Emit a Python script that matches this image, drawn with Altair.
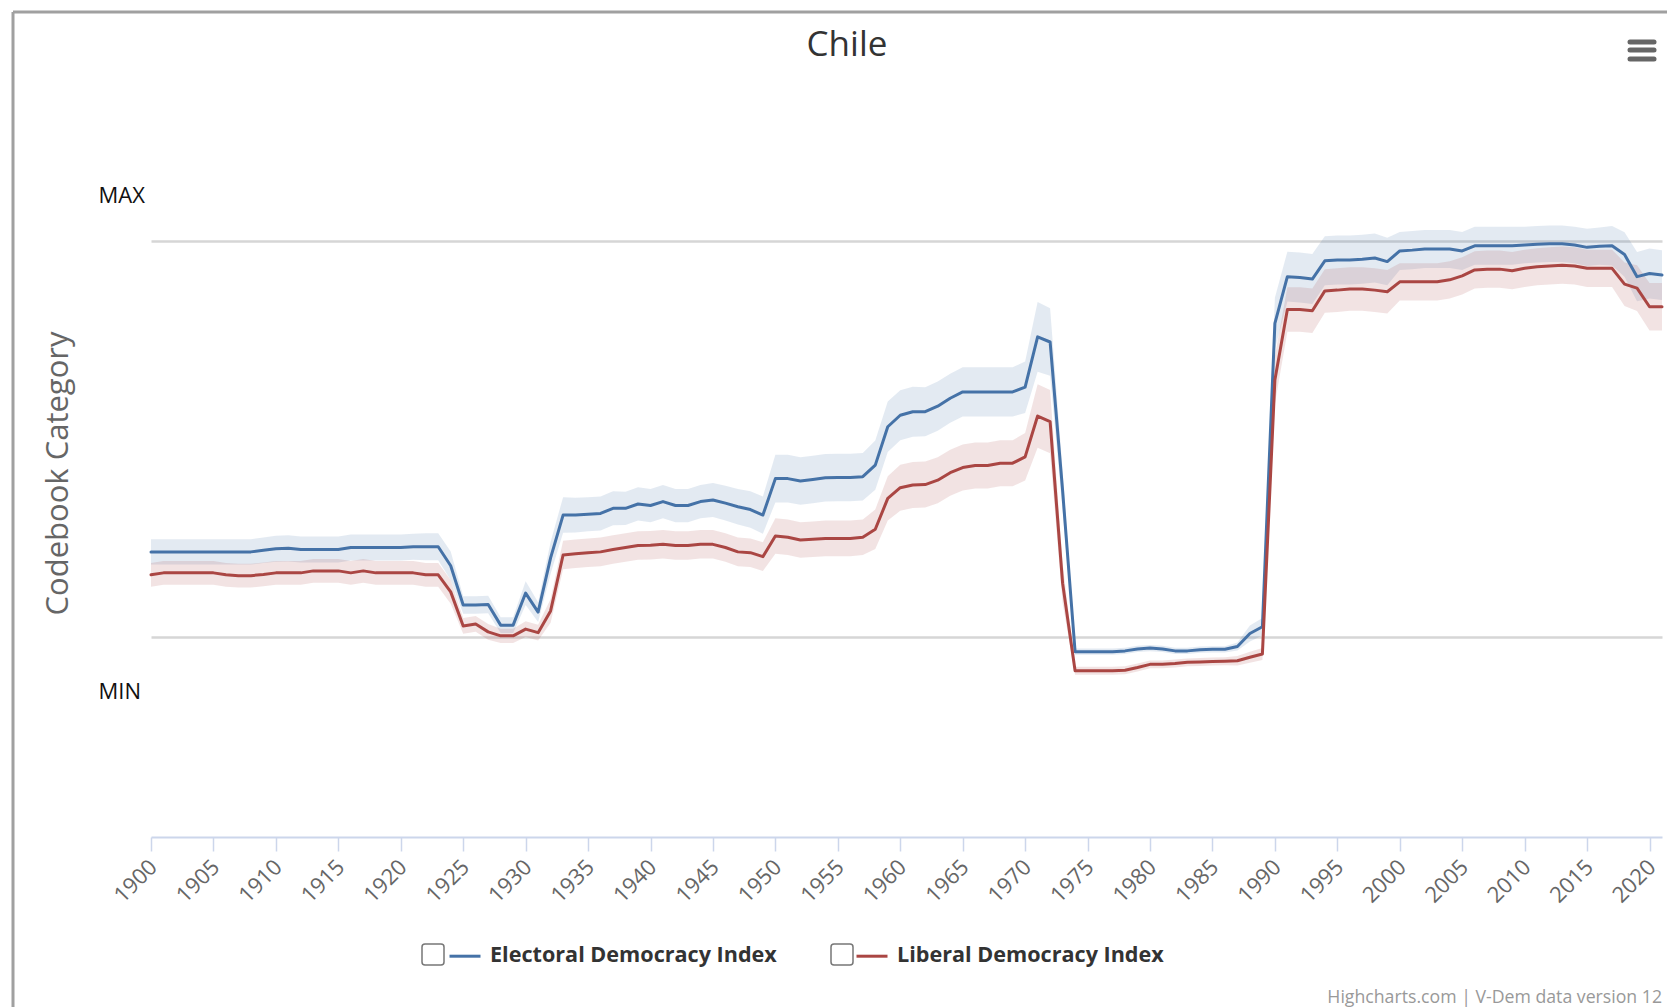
import altair as alt
import pandas as pd

# V-Dem indices for Chile, 1900-2021, on a MIN (0) .. MAX (1) codebook scale
years = list(range(1900, 2022))

electoral = [
    0.215, 0.215, 0.215, 0.215, 0.215, 0.215, 0.215, 0.215, 0.215, 0.219,
    0.223, 0.224, 0.221, 0.221, 0.221, 0.221, 0.226, 0.226, 0.226, 0.226,
    0.226, 0.228, 0.228, 0.228, 0.180, 0.081, 0.081, 0.082, 0.030, 0.030,
    0.111, 0.063, 0.200, 0.308, 0.308, 0.310, 0.312, 0.325, 0.325, 0.336,
    0.332, 0.342, 0.332, 0.332, 0.342, 0.346, 0.338, 0.329, 0.322, 0.308,
    0.400, 0.400, 0.394, 0.398, 0.402, 0.403, 0.403, 0.405, 0.434, 0.531,
    0.560, 0.569, 0.569, 0.583, 0.603, 0.619, 0.619, 0.619, 0.619, 0.619,
    0.631, 0.758, 0.745, 0.370, -0.037, -0.037, -0.037, -0.037, -0.035, -0.030,
    -0.028, -0.030, -0.035, -0.035, -0.032, -0.031, -0.031, -0.024, 0.009, 0.026,
    0.792, 0.910, 0.908, 0.904, 0.950, 0.952, 0.952, 0.954, 0.957, 0.948,
    0.975, 0.977, 0.980, 0.980, 0.980, 0.975, 0.988, 0.988, 0.988, 0.988,
    0.990, 0.992, 0.993, 0.993, 0.990, 0.984, 0.987, 0.988, 0.966, 0.910,
    0.918, 0.914,
]

# half-width of the credible interval around each electoral value
electoral_ci = [
    0.032, 0.032, 0.032, 0.032, 0.032, 0.032, 0.032, 0.032, 0.032, 0.032,
    0.033, 0.033, 0.033, 0.033, 0.033, 0.033, 0.033, 0.033, 0.033, 0.033,
    0.033, 0.033, 0.034, 0.034, 0.036, 0.022, 0.022, 0.022, 0.020, 0.020,
    0.030, 0.025, 0.040, 0.045, 0.044, 0.043, 0.043, 0.043, 0.042, 0.042,
    0.042, 0.042, 0.042, 0.042, 0.042, 0.043, 0.044, 0.045, 0.046, 0.047,
    0.060, 0.060, 0.060, 0.060, 0.060, 0.060, 0.060, 0.060, 0.062, 0.064,
    0.063, 0.063, 0.062, 0.062, 0.062, 0.062, 0.062, 0.062, 0.062, 0.062,
    0.065, 0.088, 0.085, 0.050, 0.008, 0.008, 0.008, 0.008, 0.008, 0.008,
    0.008, 0.008, 0.008, 0.008, 0.008, 0.008, 0.008, 0.010, 0.020, 0.022,
    0.065, 0.063, 0.063, 0.063, 0.062, 0.062, 0.062, 0.062, 0.062, 0.060,
    0.048, 0.048, 0.048, 0.048, 0.048, 0.048, 0.048, 0.048, 0.048, 0.048,
    0.046, 0.046, 0.046, 0.046, 0.046, 0.047, 0.047, 0.050, 0.056, 0.062,
    0.063, 0.063,
]

liberal = [
    0.157, 0.162, 0.162, 0.162, 0.162, 0.162, 0.157, 0.155, 0.155, 0.158,
    0.162, 0.162, 0.162, 0.167, 0.167, 0.167, 0.162, 0.167, 0.162, 0.162,
    0.162, 0.162, 0.157, 0.157, 0.114, 0.028, 0.033, 0.013, 0.003, 0.003,
    0.020, 0.011, 0.066, 0.207, 0.210, 0.213, 0.215, 0.221, 0.226, 0.231,
    0.232, 0.234, 0.231, 0.231, 0.234, 0.234, 0.226, 0.215, 0.213, 0.203,
    0.255, 0.252, 0.245, 0.247, 0.249, 0.249, 0.249, 0.252, 0.272, 0.350,
    0.377, 0.384, 0.385, 0.396, 0.415, 0.428, 0.433, 0.433, 0.439, 0.439,
    0.455, 0.558, 0.544, 0.136, -0.085, -0.085, -0.085, -0.085, -0.084, -0.077,
    -0.069, -0.069, -0.067, -0.064, -0.063, -0.062, -0.061, -0.060, -0.051, -0.043,
    0.649, 0.827, 0.827, 0.824, 0.874, 0.876, 0.879, 0.879, 0.876, 0.872,
    0.897, 0.897, 0.897, 0.897, 0.902, 0.912, 0.927, 0.929, 0.929, 0.925,
    0.931, 0.935, 0.937, 0.939, 0.937, 0.931, 0.931, 0.931, 0.891, 0.881,
    0.834, 0.834,
]

liberal_ci = [
    0.030, 0.030, 0.030, 0.030, 0.030, 0.030, 0.030, 0.030, 0.030, 0.030,
    0.030, 0.030, 0.030, 0.030, 0.030, 0.030, 0.030, 0.030, 0.030, 0.030,
    0.030, 0.030, 0.030, 0.030, 0.030, 0.020, 0.020, 0.020, 0.018, 0.018,
    0.020, 0.020, 0.030, 0.036, 0.036, 0.036, 0.036, 0.036, 0.036, 0.036,
    0.036, 0.036, 0.036, 0.036, 0.036, 0.036, 0.036, 0.036, 0.036, 0.036,
    0.045, 0.045, 0.045, 0.045, 0.045, 0.045, 0.045, 0.045, 0.050, 0.056,
    0.058, 0.058, 0.058, 0.058, 0.058, 0.058, 0.058, 0.058, 0.058, 0.058,
    0.060, 0.080, 0.080, 0.050, 0.010, 0.010, 0.010, 0.010, 0.010, 0.010,
    0.010, 0.010, 0.010, 0.010, 0.010, 0.010, 0.010, 0.012, 0.014, 0.015,
    0.060, 0.056, 0.056, 0.056, 0.055, 0.055, 0.055, 0.055, 0.055, 0.055,
    0.047, 0.047, 0.047, 0.047, 0.047, 0.047, 0.047, 0.047, 0.047, 0.047,
    0.047, 0.047, 0.047, 0.047, 0.047, 0.047, 0.047, 0.047, 0.055, 0.058,
    0.060, 0.060,
]

series_names = ["Electoral Democracy Index", "Liberal Democracy Index"]
series_colors = ["#4572A7", "#AA4643"]
tick_years = list(range(1900, 2021, 5))
level_values = [0, 1]

rows = []
for name, vals, ci in [(series_names[0], electoral, electoral_ci),
                       (series_names[1], liberal, liberal_ci)]:
    for yr, v, h in zip(years, vals, ci):
        rows.append({"series": name, "year": yr, "value": v,
                     "lo": v - h, "hi": v + h})
df = pd.DataFrame(rows)

FONT = "Open Sans"
W, H = 1511, 733

color_scale = alt.Scale(domain=series_names, range=series_colors)
x_enc = alt.X(
    "year:Q",
    scale=alt.Scale(domain=[1900, 2021], nice=False, zero=False),
    axis=alt.Axis(
        values=tick_years, format="d", title=None, labelAngle=-45,
        labelAlign="right", labelBaseline="top", labelPadding=5,
        labelOffset=-5,
        labelFont=FONT, labelFontSize=22, labelColor="#666666",
        labelOverlap=False, labelFlush=False, labelBound=False,
        domainColor="#ccd6eb", domainWidth=2, tickColor="#ccd6eb",
        tickSize=14, tickWidth=1.5, grid=False,
    ),
)
y_scale = alt.Scale(domain=[-0.505, 1.346], nice=False, zero=False)
y_axis = alt.Axis(
    values=level_values,
    labelExpr="datum.value == 1 ? 'MAX' : 'MIN'",
    grid=True, gridColor="#d6d6d6", gridWidth=2.5,
    domain=False, ticks=False, tickSize=0,
    labelAlign="left", labelBaseline="middle", labelPadding=53,
    labelOffset=alt.condition("datum.value == 1", alt.value(-46), alt.value(54)),
    labelFont=FONT, labelFontSize=22, labelColor="#111111",
    labelOverlap=False, labelBound=False,
    title="Codebook Category", titleFont=FONT, titleFontSize=31,
    titleFontWeight="normal", titleColor="#666666",
    titleX=-93, titleY=369, titleAngle=270,
    titleAlign="center", titleBaseline="middle",
)

base = alt.Chart(df)

bands = base.mark_area(fillOpacity=0.15, strokeWidth=0).encode(
    x=x_enc,
    y=alt.Y("hi:Q", scale=y_scale, axis=y_axis),
    y2="lo:Q",
    color=alt.Color("series:N", scale=color_scale, legend=None),
)

lines = base.mark_line(strokeWidth=3, strokeJoin="round", strokeCap="round").encode(
    x=x_enc,
    y=alt.Y("value:Q", scale=y_scale, axis=y_axis),
    color=alt.Color(
        "series:N", scale=color_scale,
        legend=alt.Legend(
            title=None, orient="none", legendX=297, legendY=835,
            direction="horizontal", symbolType="stroke", symbolSize=961,
            symbolStrokeWidth=3, labelFont=FONT, labelFontSize=21.6,
            labelFontWeight="bold", labelColor="#333333", labelOffset=8,
            labelLimit=0, columnPadding=73, padding=0,
        ),
    ),
)

one = pd.DataFrame({"t": [""]})

title_text = alt.Chart(pd.DataFrame({"t": ["Chile"]})).mark_text(
    font=FONT, fontSize=35, color="#333333", align="center", baseline="alphabetic"
).encode(x=alt.value(696), y=alt.value(-48), text="t:N")

credits = alt.Chart(pd.DataFrame({"t": ["Highcharts.com | V-Dem data version 12"]})).mark_text(
    font=FONT, fontSize=17.7, color="#999999", align="right", baseline="alphabetic"
).encode(x=alt.value(1511), y=alt.value(899), text="t:N")

frame_top = alt.Chart(one).mark_rule(color="#a0a0a0", strokeWidth=3).encode(
    x=alt.value(-138), x2=alt.value(1516), y=alt.value(-92)
)
frame_left = alt.Chart(one).mark_rule(color="#a0a0a0", strokeWidth=3).encode(
    x=alt.value(-138), y=alt.value(-92), y2=alt.value(903)
)

menu_bars = [
    alt.Chart(one).mark_rule(color="#666666", strokeWidth=5, strokeCap="round").encode(
        x=alt.value(1479), x2=alt.value(1503), y=alt.value(yy)
    )
    for yy in (-62, -54, -45)
]

checkboxes = [
    alt.Chart(one).mark_rect(fill="white", stroke="#777777", strokeWidth=1.5,
                             cornerRadius=3).encode(
        x=alt.value(x0), x2=alt.value(x0 + 22), y=alt.value(840), y2=alt.value(861)
    )
    for x0 in (271, 680)
]

chart = alt.layer(
    bands, lines, title_text, credits, frame_top, frame_left, *menu_bars, *checkboxes
).resolve_legend(color="independent").properties(
    width=W, height=H,
    padding={"left": 151, "top": 104, "right": 5, "bottom": 170},
    autosize=alt.AutoSizeParams(type="none"),
    background="white",
).configure_view(stroke=None)

chart.save("out.html", embed_options={"renderer": "svg", "actions": False})
